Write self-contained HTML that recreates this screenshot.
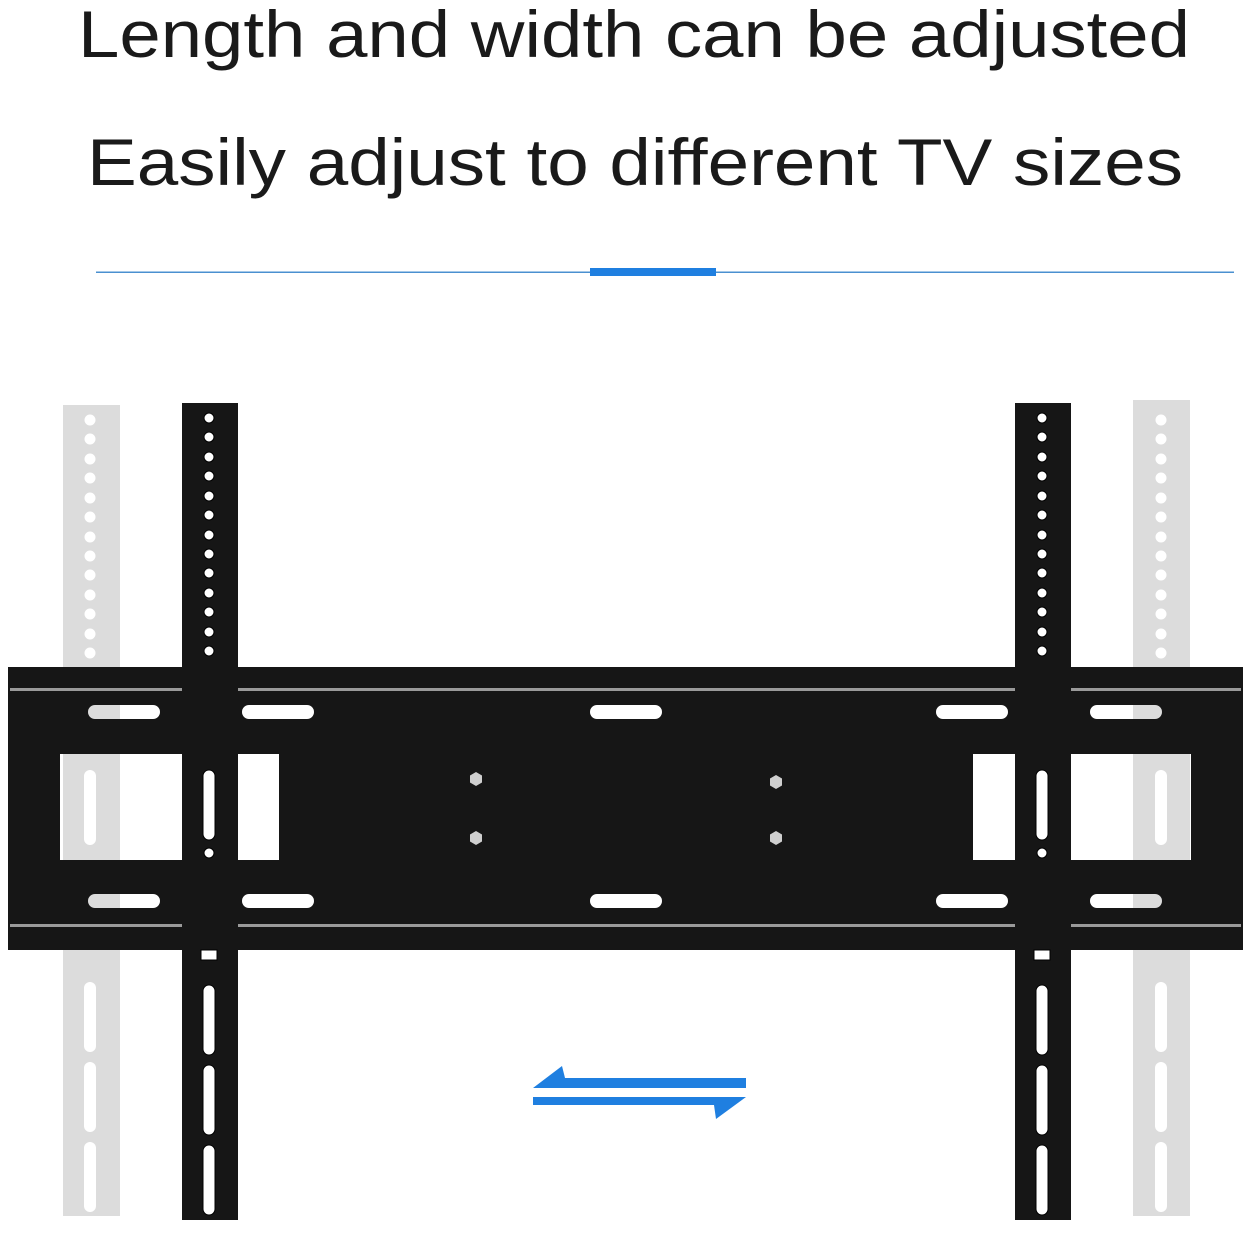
<!DOCTYPE html>
<html><head><style>
html,body{margin:0;padding:0;background:#fff;}
body{width:1251px;height:1231px;overflow:hidden;}
</style></head><body>
<svg width="1251" height="1231" viewBox="0 0 1251 1231" xmlns="http://www.w3.org/2000/svg">
<rect width="1251" height="1231" fill="#fff"/>
<text x="78" y="57" textLength="1112" lengthAdjust="spacingAndGlyphs" font-family="Liberation Sans, sans-serif" font-size="66" fill="#1a1a1a">Length and width can be adjusted</text>
<text x="87" y="185" textLength="1096" lengthAdjust="spacingAndGlyphs" font-family="Liberation Sans, sans-serif" font-size="66" fill="#1a1a1a">Easily adjust to different TV sizes</text>
<rect x="96" y="271.5" width="1138" height="1.5" fill="#4a90d0"/>
<rect x="590" y="268" width="126" height="8" fill="#1f7fe0"/>

<g fill="#dcdcdc">
<rect x="63" y="405" width="57" height="811"/>
<rect x="1133" y="400" width="57" height="816"/>
</g>
<g fill="#fff">
<g id="gh">
<circle cx="90" cy="420" r="5.5"/><circle cx="90" cy="439" r="5.5"/><circle cx="90" cy="459" r="5.5"/><circle cx="90" cy="478" r="5.5"/><circle cx="90" cy="498" r="5.5"/><circle cx="90" cy="517" r="5.5"/><circle cx="90" cy="537" r="5.5"/><circle cx="90" cy="556" r="5.5"/><circle cx="90" cy="575" r="5.5"/><circle cx="90" cy="595" r="5.5"/><circle cx="90" cy="614" r="5.5"/><circle cx="90" cy="634" r="5.5"/><circle cx="90" cy="653" r="5.5"/>
<rect x="84" y="770" width="12" height="75" rx="6"/>
<rect x="84" y="982" width="12" height="70" rx="6"/>
<rect x="84" y="1062" width="12" height="70" rx="6"/>
<rect x="84" y="1142" width="12" height="70" rx="6"/>
</g>
<use href="#gh" x="1071"/>
</g>

<path fill-rule="evenodd" fill="#161616" d="
M8,667 H1243 V950 H8 Z
M60,754 H279 V860 H60 Z
M973,754 H1191 V860 H973 Z
M95,705 H153 A7,7 0 0 1 153,719 H95 A7,7 0 0 1 95,705 Z
M249,705 H307 A7,7 0 0 1 307,719 H249 A7,7 0 0 1 249,705 Z
M597,705 H655 A7,7 0 0 1 655,719 H597 A7,7 0 0 1 597,705 Z
M943,705 H1001 A7,7 0 0 1 1001,719 H943 A7,7 0 0 1 943,705 Z
M1097,705 H1155 A7,7 0 0 1 1155,719 H1097 A7,7 0 0 1 1097,705 Z
M95,894 H153 A7,7 0 0 1 153,908 H95 A7,7 0 0 1 95,894 Z
M249,894 H307 A7,7 0 0 1 307,908 H249 A7,7 0 0 1 249,894 Z
M597,894 H655 A7,7 0 0 1 655,908 H597 A7,7 0 0 1 597,894 Z
M943,894 H1001 A7,7 0 0 1 1001,908 H943 A7,7 0 0 1 943,894 Z
M1097,894 H1155 A7,7 0 0 1 1155,908 H1097 A7,7 0 0 1 1097,894 Z
"/>
<rect x="10" y="688" width="1231" height="3" fill="#9a9a9a"/>
<rect x="10" y="924" width="1231" height="3" fill="#9a9a9a"/>
<g fill="#cfcfcf">
<polygon points="476,772 482,775.5 482,782.5 476,786 470,782.5 470,775.5"/>
<polygon points="476,831 482,834.5 482,841.5 476,845 470,841.5 470,834.5"/>
<polygon points="776,775 782,778.5 782,785.5 776,789 770,785.5 770,778.5"/>
<polygon points="776,831 782,834.5 782,841.5 776,845 770,841.5 770,834.5"/>
</g>

<g>
<g id="bk">
<rect x="182" y="403" width="56" height="817" fill="#161616"/>
<g fill="#fff" stroke="#000" stroke-width="1">
<circle cx="209" cy="418" r="5"/><circle cx="209" cy="437" r="5"/><circle cx="209" cy="457" r="5"/><circle cx="209" cy="476" r="5"/><circle cx="209" cy="496" r="5"/><circle cx="209" cy="515" r="5"/><circle cx="209" cy="535" r="5"/><circle cx="209" cy="554" r="5"/><circle cx="209" cy="573" r="5"/><circle cx="209" cy="593" r="5"/><circle cx="209" cy="612" r="5"/><circle cx="209" cy="632" r="5"/><circle cx="209" cy="651" r="5"/>
<rect x="203" y="770" width="12" height="70" rx="6"/>
<circle cx="209" cy="853" r="5"/>
<rect x="203" y="985" width="12" height="70" rx="6"/>
<rect x="203" y="1065" width="12" height="70" rx="6"/>
<rect x="203" y="1145" width="12" height="70" rx="6"/>
<rect x="201" y="950" width="16" height="10"/>
</g>
</g>
<use href="#bk" x="833"/>
</g>

<g fill="#1f7fe0">
<polygon points="533,1088 562,1066 565,1078 746,1078 746,1088"/>
<polygon points="533,1097 746,1097 716,1119 714,1105 533,1105"/>
</g>
</svg>
</body></html>
